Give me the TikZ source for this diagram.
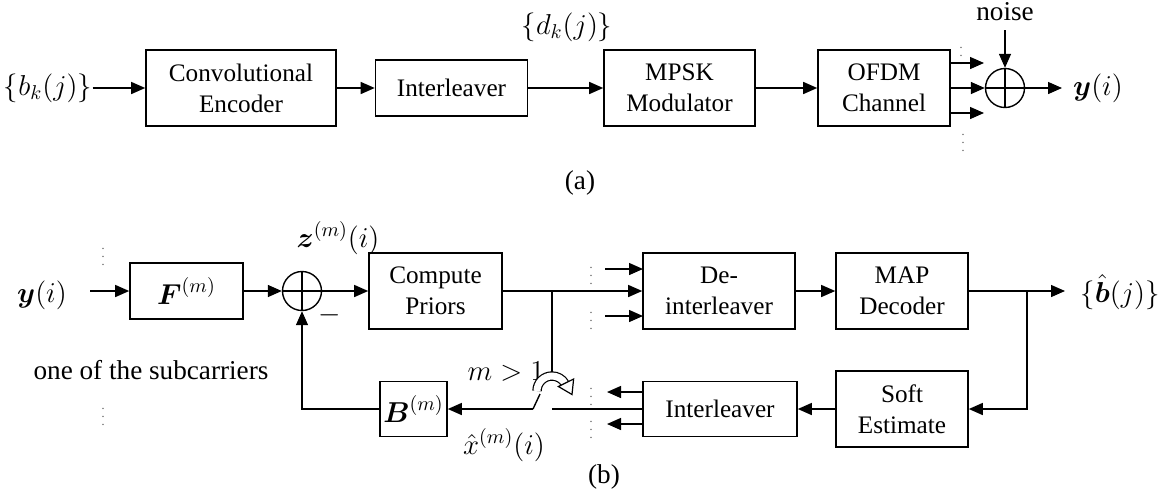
\documentclass[tikz,border=0pt,12pt]{standalone}
\usepackage{amsmath}
\usepackage{fontspec}
\setmainfont{Liberation Serif}
\usetikzlibrary{arrows.meta,calc}
\begin{document}
\begin{tikzpicture}[x=0.5pt,y=-0.5pt,
  line width=0.7pt,
  >={Triangle[length=7pt,width=6pt]},
  blk/.style={draw,line width=0.8pt,align=center,inner sep=0pt,font=\fontsize{12.6}{15.5}\selectfont},
  sumj/.style={draw,circle,minimum size=19.5pt,inner sep=0pt},
  lbl/.style={inner sep=0pt,font=\fontsize{13.6}{16}\selectfont},
  dts/.style={inner sep=0pt,font=\tiny,text=black!70}]
\useasboundingbox (0,0) rectangle (1159,494);

% ---------- (a) ----------
\node[lbl] (bk) at (48,88) {$\{b_k(j)\}$};
\node[blk,minimum width=95pt,minimum height=38pt] (enc) at (241,88) {Convolutional\\Encoder};
\node[blk,minimum width=76pt,minimum height=28pt] (il1) at (451.5,88) {Interleaver};
\node[blk,minimum width=75.5pt,minimum height=38pt] (mpsk) at (679.5,88) {MPSK\\Modulator};
\node[blk,minimum width=66pt,minimum height=38pt] (ofdm) at (884,88) {OFDM\\Channel};
\node[sumj] (s1) at (1005,88) {};
\draw (s1.north)--(s1.south) (s1.west)--(s1.east);
\node[lbl] (noise) at (1005,12) {noise};
\coordinate (nz) at (1005,30);
\node[lbl] (ya) at (1098,88) {$\boldsymbol{y}(i)$};
\coordinate (yae) at (1062,88);
\node[lbl] (dk) at (567,27) {$\{d_k(j)\}$};
\node[lbl] (la) at (580,183) {(a)};
\coordinate (o1s) at (950,63);
\coordinate (o1e) at (984,63);
\coordinate (o3s) at (950,113);
\coordinate (o3e) at (984,113);
\node[dts] (da1) at (961,50) {$\vdots$};
\node[dts] (da2) at (963,137) {$\vdots$};

\draw[->] (bk.east) -- (enc.west);
\draw[->] (enc.east) -- (il1.west);
\draw[->] (il1.east) -- (mpsk.west);
\draw[->] (mpsk.east) -- (ofdm.west);
\draw[->] (ofdm.east) -- (s1.west);
\draw[->] (o1s) -- (o1e);
\draw[->] (o3s) -- (o3e);
\draw[->] (nz) -- (s1.north);
\draw[->] (s1.east) -- (yae);

% ---------- (b) ----------
\node[lbl] (yb) at (42,295) {$\boldsymbol{y}(i)$};
\coordinate (yin) at (90,291);
\node[blk,minimum width=56.5pt,minimum height=28pt,font=\fontsize{13.6}{16}\selectfont] (F) at (186.5,291) {$\boldsymbol{F}^{(m)}$};
\node[sumj] (s2) at (302,291) {};
\draw (s2.north)--(s2.south) (s2.west)--(s2.east);
\node[blk,minimum width=66.5pt,minimum height=38pt] (cp) at (435.5,291) {Compute\\Priors};
\node[blk,minimum width=76pt,minimum height=38pt] (deil) at (719,291) {De-\\interleaver};
\node[blk,minimum width=66pt,minimum height=38pt] (map) at (902,291) {MAP\\Decoder};
\node[lbl] (bh) at (1120,292) {$\{\hat{\boldsymbol{b}}(j)\}$};
\coordinate (bout) at (1065,291);
\node[blk,minimum width=66pt,minimum height=38pt] (soft) at (902,409) {Soft\\Estimate};
\node[blk,minimum width=77pt,minimum height=27.5pt] (il2) at (720,409) {Interleaver};
\node[blk,minimum width=33.5pt,minimum height=27.5pt,font=\fontsize{13.6}{16}\selectfont] (Bb) at (413.5,409) {$\boldsymbol{B}^{(m)}$};

\node[lbl] (zl) at (338,238) {$\boldsymbol{z}^{(m)}(i)$};
\node[lbl] (mn) at (330,315) {$-$};
\node[lbl] (sub) at (151,370) {one of the subcarriers};
\node[lbl] (xl) at (504,445) {$\hat{x}^{(m)}(i)$};
\node[lbl] (ml) at (506,372) {$m>1$};
\node[lbl] (lb) at (604,477) {(b)};

\node[dts] (db1) at (103,251) {$\vdots$};
\node[dts] (db2) at (103,411) {$\vdots$};
\node[dts] (db3) at (591,270) {$\vdots$};
\node[dts] (db4) at (591,315) {$\vdots$};
\node[dts] (db5) at (591,391) {$\vdots$};
\node[dts] (db6) at (591,424) {$\vdots$};

\coordinate (br1) at (552,291);
\coordinate (swtop) at (552,373);
\coordinate (br2) at (1027,291);
\coordinate (swr) at (552,409);
\coordinate (swl) at (533,409);
\coordinate (blade) at (540,394);
\coordinate (di1) at (605,269);
\coordinate (di1e) at (643,269);
\coordinate (di3) at (605,316);
\coordinate (di3e) at (643,316);
\coordinate (io1) at (643,392);
\coordinate (io1e) at (607,392);
\coordinate (io3) at (643,424);
\coordinate (io3e) at (607,424);

\draw[->] (yin) -- (F.west);
\draw[->] (F.east) -- (s2.west);
\draw[->] (s2.east) -- (cp.west);
\draw[->] (cp.east) -- (deil.west);
\draw (br1) -- (swtop);
\draw[->] (di1) -- (di1e);
\draw[->] (di3) -- (di3e);
\draw[->] (deil.east) -- (map.west);
\draw[->] (map.east) -- (bout);
\draw[->] (br2) |- (soft.east);
\draw[->] (soft.west) -- (il2.east);
\draw (il2.west) -- (swr);
\draw[->] (io1) -- (io1e);
\draw[->] (io3) -- (io3e);
\draw[->] (swl) -- (Bb.east);
\draw (swl) -- (blade);
\draw[->] (Bb.west) -| (s2.south);

% switch actuator (hollow curved arrow)
\draw[double=white, double distance=3.5pt, line width=0.6pt] (537,391) arc[start angle=180,end angle=330,radius=15];
\draw[line width=0.6pt, fill=white] (573.6,379) -- (572,394.5) -- (558.4,386.5) -- cycle;
\end{tikzpicture}
\end{document}
